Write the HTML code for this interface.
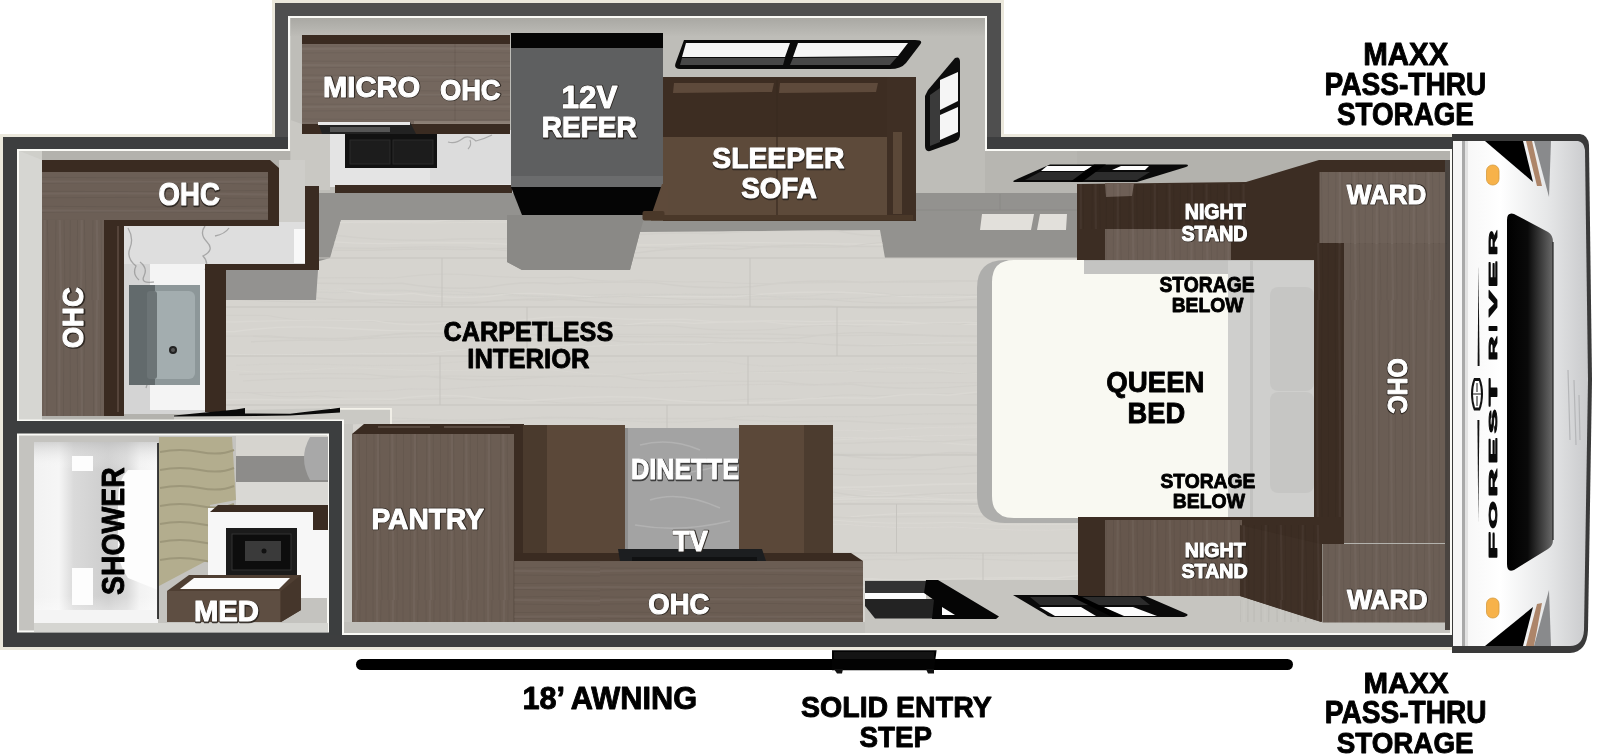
<!DOCTYPE html>
<html><head><meta charset="utf-8"><style>
html,body{margin:0;padding:0;background:#fff;overflow:hidden}
svg{display:block;will-change:transform}
text{font-family:"Liberation Sans",sans-serif;font-weight:bold}
</style></head><body>
<svg width="1600" height="754" viewBox="0 0 1600 754">
<defs>
<linearGradient id="capg" x1="0" y1="0" x2="1" y2="0">
 <stop offset="0" stop-color="#f4f4f4"/><stop offset="0.35" stop-color="#ffffff"/><stop offset="0.7" stop-color="#e6e7e8"/><stop offset="1" stop-color="#c9cacc"/>
</linearGradient>
<linearGradient id="winf" x1="0" y1="0" x2="1" y2="0">
 <stop offset="0" stop-color="#000"/><stop offset="0.45" stop-color="#0a0a0a"/><stop offset="1" stop-color="#6a6a6a"/>
</linearGradient>
<linearGradient id="showg" x1="0" y1="0" x2="1" y2="0">
 <stop offset="0" stop-color="#f2f2f2"/><stop offset="0.2" stop-color="#f6f6f6"/><stop offset="0.32" stop-color="#dadada"/><stop offset="0.6" stop-color="#cdcdcd"/><stop offset="0.75" stop-color="#d9d9d9"/><stop offset="0.85" stop-color="#f2f2f2"/><stop offset="1" stop-color="#f8f8f8"/>
</linearGradient>
<linearGradient id="showv" x1="0" y1="0" x2="0" y2="1">
 <stop offset="0" stop-color="#bdbdbd" stop-opacity="0.6"/><stop offset="0.15" stop-color="#ffffff" stop-opacity="0"/><stop offset="0.85" stop-color="#ffffff" stop-opacity="0"/><stop offset="1" stop-color="#ffffff" stop-opacity="0.6"/>
</linearGradient>
<linearGradient id="wallt" x1="0" y1="0" x2="0" y2="1">
 <stop offset="0" stop-color="#a9a8a3"/><stop offset="1" stop-color="#bdbcb7"/>
</linearGradient>
<pattern id="wv" x="0" y="0" width="37" height="300" patternUnits="userSpaceOnUse">
 <path d="M3,0 q2,150 0,300 M11,0 q-3,150 1,300 M19,0 q2,150 -1,300 M27,0 q-2,150 1,300 M33,0 q1,150 0,300" stroke="#000" stroke-opacity="0.055" stroke-width="1" fill="none"/>
 <path d="M7,0 q2,150 0,300 M23,0 q-2,150 1,300" stroke="#fff" stroke-opacity="0.04" stroke-width="2" fill="none"/>
</pattern>
<pattern id="wh" x="0" y="0" width="300" height="29" patternUnits="userSpaceOnUse">
 <path d="M0,3 q150,2 300,0 M0,10 q150,-3 300,1 M0,17 q150,2 300,-1 M0,24 q150,-2 300,1" stroke="#000" stroke-opacity="0.055" stroke-width="1" fill="none"/>
 <path d="M0,7 q150,2 300,0 M0,20 q150,-2 300,1" stroke="#fff" stroke-opacity="0.04" stroke-width="2" fill="none"/>
</pattern>
</defs>
<polygon points="0,134 272,134 272,0 1004,0 1004,134 1462,134 1462,650 0,650" fill="#ebe8dc"/>
<polygon points="3,137 275,137 275,3 1001,3 1001,137 1462,137 1462,647 3,647" fill="#3d3e3f"/>
<polygon points="275,3 1001,3 1001,137 275,137" fill="#4f4f4f"/>
<polygon points="17,149 288,149 288,16 987,16 987,149 1452,149 1452,635 17,635" fill="#fafaf6"/>
<polygon points="19.5,151 290.5,151 290.5,18 985,18 985,151 1450,151 1450,633 19.5,633" fill="#b3b2ad"/>
<rect x="290.5" y="18" width="694.5" height="176" fill="#bebdb8"/>
<rect x="985" y="151" width="92" height="43" fill="#b7b6b1"/>
<rect x="290.5" y="18" width="694.5" height="18" fill="url(#wallt)"/>
<rect x="19.5" y="151" width="22.5" height="270" fill="#cfcfca"/>
<polygon points="19.5,151 42,160 42,420 19.5,420" fill="#d6d6d2"/>
<rect x="319" y="193" width="762" height="117" fill="#93928f"/>
<line x1="916" y1="210" x2="1077" y2="210" stroke="#8a8986" stroke-width="1"/>
<line x1="1000" y1="194" x2="1000" y2="210" stroke="#8a8986" stroke-width="1"/>
<polygon points="341,220 507,220 507,262 522,270 630,270 640,232 880,230 885,258 1080,258 1080,582 865,582 865,622 352,622 352,420 226,420 226,300 316,300 316,262 330,258" fill="#d6d4cf"/>
<clipPath id="flc"><polygon points="341,220 507,220 507,262 522,270 630,270 640,232 880,230 885,258 1080,258 1080,582 865,582 865,622 352,622 352,420 226,420 226,300 316,300 316,262 330,258"/></clipPath>
<g clip-path="url(#flc)"><path d="M164,227.3 q56,-6.8 112,-3.4 q51,-2.1 103,-1.1 q32,0.1 65,0.1 q31,-1.1 63,-0.5 q33,-6.5 66,-3.3 q47,5.2 94,2.6 q35,-4.4 70,-2.2 q55,7.2 110,3.6 q53,-1.7 106,-0.8 q69,-7.3 138,-3.6" stroke="#dad8d3" stroke-width="0.9" fill="none"/><path d="M160,219.9 q42,5.1 85,2.5 q37,1.3 74,0.7 q56,-2.0 111,-1.0 q52,-7.0 104,-3.5 q32,-4.7 65,-2.4 q57,-1.2 114,-0.6 q43,1.4 85,0.7 q48,-3.2 96,-1.6 q62,3.2 124,1.6 q40,1.2 80,0.6" stroke="#dbd9d4" stroke-width="1.5" fill="none"/><path d="M181,243.9 q69,-6.1 138,-3.1 q47,4.1 93,2.1 q36,-0.2 72,-0.1 q32,2.7 63,1.3 q61,1.2 121,0.6 q65,-3.0 130,-1.5 q58,1.5 116,0.8 q53,-0.7 106,-0.4 q64,7.1 127,3.6" stroke="#dbd9d4" stroke-width="1.3" fill="none"/><path d="M234,216.7 q42,1.2 85,0.6 q57,-0.9 114,-0.4 q59,6.2 117,3.1 q44,7.1 88,3.5 q44,1.8 88,0.9 q50,-4.5 99,-2.3 q41,3.8 83,1.9 q46,6.7 92,3.3 q50,-5.3 100,-2.7" stroke="#dbd9d4" stroke-width="1.1" fill="none"/><path d="M244,250.2 q65,-3.5 129,-1.8 q47,-2.3 93,-1.1 q65,7.3 131,3.7 q36,-5.2 72,-2.6 q39,-4.3 79,-2.1 q49,1.4 99,0.7 q41,-7.9 81,-4.0 q47,-2.1 94,-1.0 q53,7.2 105,3.6" stroke="#d1cfca" stroke-width="1.1" fill="none"/><path d="M260,249.7 q57,0.9 114,0.5 q46,-1.7 92,-0.8 q49,-1.6 99,-0.8 q38,7.8 75,3.9 q48,-6.2 95,-3.1 q54,-6.4 108,-3.2 q53,0.6 105,0.3 q68,1.8 136,0.9" stroke="#d1cfca" stroke-width="1.5" fill="none"/><path d="M164,239.2 q40,-2.4 80,-1.2 q45,-6.0 89,-3.0 q64,7.9 128,3.9 q49,-0.3 97,-0.1 q33,-6.4 67,-3.2 q44,-3.8 87,-1.9 q63,-5.4 126,-2.7 q31,7.2 62,3.6 q51,-5.7 102,-2.8 q52,-7.6 103,-3.8" stroke="#d2d0cb" stroke-width="1.6" fill="none"/><path d="M230,298.6 q40,-2.1 81,-1.1 q37,4.4 73,2.2 q51,4.5 103,2.2 q43,-4.4 86,-2.2 q62,7.8 125,3.9 q64,4.9 128,2.4 q63,3.8 125,1.9 q39,0.3 78,0.1 q44,-7.5 88,-3.8" stroke="#d1cfca" stroke-width="1.4" fill="none"/><path d="M169,282.6 q54,-2.5 108,-1.2 q62,3.6 125,1.8 q44,7.6 88,3.8 q33,-6.4 66,-3.2 q49,-2.6 98,-1.3 q49,7.8 99,3.9 q54,-8.0 109,-4.0 q66,-2.5 133,-1.2 q56,5.4 111,2.7" stroke="#d1cfca" stroke-width="1.5" fill="none"/><path d="M236,295.3 q49,-5.1 98,-2.6 q62,-2.7 123,-1.3 q62,7.5 124,3.8 q46,-1.6 92,-0.8 q68,3.6 136,1.8 q37,-6.0 74,-3.0 q36,6.5 72,3.2 q62,-5.7 125,-2.8 q63,7.7 126,3.8" stroke="#d2d0cb" stroke-width="0.8" fill="none"/><path d="M149,285.7 q62,3.6 124,1.8 q34,4.0 68,2.0 q36,7.8 71,3.9 q38,6.0 76,3.0 q31,-4.6 62,-2.3 q50,4.2 100,2.1 q43,0.7 86,0.4 q63,-7.0 127,-3.5 q60,6.4 119,3.2 q56,5.0 113,2.5" stroke="#dbd9d4" stroke-width="1.4" fill="none"/><path d="M162,299.2 q36,0.2 72,0.1 q65,4.4 130,2.2 q54,4.4 109,2.2 q36,-5.7 72,-2.9 q55,-6.1 110,-3.0 q32,2.9 65,1.5 q51,-0.3 102,-0.1 q61,6.1 122,3.1 q32,-4.9 65,-2.5 q32,-6.4 63,-3.2 q48,-7.6 96,-3.8" stroke="#d1cfca" stroke-width="1.0" fill="none"/><path d="M207,288.3 q50,3.1 101,1.5 q48,0.5 96,0.3 q49,7.1 98,3.5 q58,6.0 116,3.0 q68,-3.8 135,-1.9 q52,7.1 105,3.5 q64,-5.8 127,-2.9 q35,-0.9 70,-0.5 q33,-4.1 66,-2.1" stroke="#d1cfca" stroke-width="0.8" fill="none"/><path d="M161,275.6 q61,7.0 122,3.5 q56,-2.1 111,-1.1 q40,-5.8 80,-2.9 q49,3.9 97,2.0 q34,6.2 68,3.1 q37,2.7 73,1.3 q39,3.3 78,1.7 q70,-1.5 140,-0.8 q47,-2.3 94,-1.1 q34,-2.1 67,-1.1" stroke="#d2d0cb" stroke-width="1.2" fill="none"/><path d="M148,330.5 q43,2.0 87,1.0 q50,-7.0 101,-3.5 q69,4.6 139,2.3 q69,-6.3 138,-3.2 q41,-7.4 81,-3.7 q61,-3.7 122,-1.8 q35,-1.2 70,-0.6 q66,5.1 133,2.6 q40,-5.6 81,-2.8" stroke="#dbd9d4" stroke-width="1.3" fill="none"/><path d="M153,316.1 q58,-1.2 115,-0.6 q33,7.0 66,3.5 q55,4.8 111,2.4 q33,5.7 67,2.8 q33,5.8 65,2.9 q48,-2.6 96,-1.3 q52,6.8 104,3.4 q41,-5.9 81,-3.0 q51,-4.2 102,-2.1 q34,-5.4 69,-2.7 q32,-4.8 64,-2.4" stroke="#d2d0cb" stroke-width="1.2" fill="none"/><path d="M171,334.2 q48,2.8 96,1.4 q41,4.9 82,2.4 q70,-7.4 140,-3.7 q31,0.1 61,0.0 q69,0.2 138,0.1 q40,-0.8 80,-0.4 q56,2.4 113,1.2 q56,0.7 113,0.4 q66,7.5 131,3.8" stroke="#d2d0cb" stroke-width="1.3" fill="none"/><path d="M187,352.7 q63,3.3 127,1.7 q55,-1.5 111,-0.8 q44,-7.1 88,-3.6 q35,-6.9 70,-3.4 q60,-3.9 119,-2.0 q37,-6.6 73,-3.3 q64,5.9 127,3.0 q57,-3.5 114,-1.7 q40,-3.3 79,-1.7" stroke="#dbd9d4" stroke-width="0.8" fill="none"/><path d="M146,323.4 q45,-2.7 89,-1.4 q69,-2.8 139,-1.4 q31,6.1 63,3.1 q39,-5.1 77,-2.5 q43,-6.7 87,-3.3 q41,2.5 82,1.2 q40,4.4 80,2.2 q34,5.1 67,2.5 q36,1.4 72,0.7 q46,-3.2 92,-1.6 q55,-6.6 110,-3.3" stroke="#dad8d3" stroke-width="1.3" fill="none"/><path d="M251,341.8 q46,-2.8 91,-1.4 q69,-5.6 139,-2.8 q59,2.3 118,1.1 q32,5.4 64,2.7 q66,2.0 131,1.0 q59,5.0 119,2.5 q36,0.4 71,0.2 q50,5.4 100,2.7" stroke="#d1cfca" stroke-width="1.4" fill="none"/><path d="M253,336.3 q57,3.1 115,1.5 q39,-7.5 78,-3.8 q35,-2.2 71,-1.1 q34,5.4 68,2.7 q52,2.0 105,1.0 q55,2.9 110,1.4 q50,-7.9 99,-4.0 q62,4.0 124,2.0 q50,0.6 100,0.3" stroke="#d1cfca" stroke-width="1.3" fill="none"/><path d="M243,381.0 q64,-4.2 128,-2.1 q60,-4.3 121,-2.2 q56,-0.6 112,-0.3 q64,-6.8 128,-3.4 q66,-3.4 133,-1.7 q32,2.1 64,1.1 q38,1.6 76,0.8 q43,2.4 87,1.2" stroke="#d2d0cb" stroke-width="1.2" fill="none"/><path d="M204,367.1 q49,7.6 99,3.8 q34,-4.5 68,-2.3 q50,3.3 99,1.7 q41,-0.5 83,-0.3 q61,7.9 121,3.9 q52,-3.0 104,-1.5 q33,-0.4 67,-0.2 q42,-6.8 83,-3.4 q50,7.9 101,4.0 q70,-1.8 140,-0.9" stroke="#dad8d3" stroke-width="0.7" fill="none"/><path d="M236,365.3 q40,-2.2 81,-1.1 q54,2.1 108,1.1 q41,-6.2 82,-3.1 q45,-0.0 89,-0.0 q65,-1.7 130,-0.8 q36,7.2 73,3.6 q57,-1.5 115,-0.8 q59,-1.3 118,-0.7 q45,-6.1 90,-3.0" stroke="#d2d0cb" stroke-width="0.6" fill="none"/><path d="M247,392.4 q35,6.8 70,3.4 q59,6.4 117,3.2 q42,-2.0 83,-1.0 q46,8.0 91,4.0 q54,-2.2 107,-1.1 q47,-3.6 94,-1.8 q32,-6.4 64,-3.2 q63,-3.4 127,-1.7 q67,-4.0 135,-2.0" stroke="#d2d0cb" stroke-width="1.0" fill="none"/><path d="M239,374.5 q61,-1.2 123,-0.6 q31,4.2 62,2.1 q46,6.0 92,3.0 q52,-4.7 104,-2.4 q33,6.9 66,3.5 q46,1.8 93,0.9 q36,5.9 71,3.0 q49,6.6 99,3.3 q52,-5.3 104,-2.6 q47,-3.5 93,-1.7" stroke="#d2d0cb" stroke-width="1.3" fill="none"/><path d="M177,401.6 q56,-3.2 112,-1.6 q52,-1.7 105,-0.8 q37,-5.4 73,-2.7 q38,6.5 77,3.2 q50,-4.5 100,-2.2 q66,7.9 133,4.0 q48,-5.8 96,-2.9 q38,-6.5 75,-3.3 q44,-6.5 87,-3.3 q40,-3.9 79,-1.9" stroke="#dad8d3" stroke-width="1.5" fill="none"/><path d="M196,392.3 q47,0.4 93,0.2 q45,-2.6 90,-1.3 q32,-3.6 65,-1.8 q69,-6.0 137,-3.0 q50,2.1 100,1.0 q65,-4.5 129,-2.3 q41,-4.0 82,-2.0 q46,-0.9 92,-0.4 q68,5.6 136,2.8" stroke="#d1cfca" stroke-width="0.7" fill="none"/><path d="M238,428.2 q62,7.5 124,3.7 q50,-6.8 99,-3.4 q67,6.9 134,3.4 q51,-0.5 102,-0.3 q48,4.5 96,2.3 q39,-5.6 78,-2.8 q69,-6.3 138,-3.1 q63,3.2 126,1.6" stroke="#dbd9d4" stroke-width="0.7" fill="none"/><path d="M146,442.7 q35,1.1 70,0.6 q32,3.4 63,1.7 q68,2.0 137,1.0 q51,-1.0 102,-0.5 q61,-6.4 121,-3.2 q42,7.1 84,3.5 q38,-3.8 75,-1.9 q62,-8.0 123,-4.0 q51,7.9 103,4.0 q41,-2.9 82,-1.5" stroke="#dad8d3" stroke-width="1.1" fill="none"/><path d="M176,420.4 q68,3.3 137,1.6 q42,-7.7 85,-3.8 q50,2.8 100,1.4 q47,-3.9 94,-1.9 q57,6.8 113,3.4 q39,-7.5 78,-3.7 q44,-1.3 87,-0.6 q57,-4.8 115,-2.4 q62,3.8 124,1.9" stroke="#d1cfca" stroke-width="0.8" fill="none"/><path d="M183,450.6 q63,-4.3 126,-2.2 q39,4.2 78,2.1 q42,7.2 84,3.6 q50,-5.0 100,-2.5 q39,-1.3 78,-0.7 q57,7.2 113,3.6 q36,-1.7 72,-0.9 q39,7.6 77,3.8 q36,-7.2 71,-3.6 q32,-1.7 65,-0.9 q66,6.1 132,3.1" stroke="#d1cfca" stroke-width="1.6" fill="none"/><path d="M186,449.0 q37,7.0 75,3.5 q60,-7.5 120,-3.7 q57,-1.9 113,-1.0 q45,-2.7 90,-1.3 q37,-8.0 74,-4.0 q41,-2.4 82,-1.2 q68,-6.0 136,-3.0 q69,-4.7 137,-2.3 q44,5.1 89,2.6" stroke="#dbd9d4" stroke-width="0.7" fill="none"/><path d="M169,439.7 q52,-0.9 103,-0.4 q43,3.8 86,1.9 q49,2.1 98,1.1 q40,2.0 80,1.0 q46,-2.0 92,-1.0 q49,4.9 97,2.4 q32,-4.9 65,-2.4 q33,1.7 65,0.8 q45,-2.6 89,-1.3 q68,-7.3 136,-3.7" stroke="#d2d0cb" stroke-width="1.5" fill="none"/><path d="M233,423.0 q54,4.9 108,2.4 q68,-7.0 136,-3.5 q63,-6.3 126,-3.1 q59,-0.5 117,-0.3 q61,4.6 122,2.3 q67,5.0 133,2.5 q35,-0.1 71,-0.0 q30,6.9 61,3.4" stroke="#d2d0cb" stroke-width="1.4" fill="none"/><path d="M219,491.7 q43,-2.9 86,-1.4 q44,4.5 89,2.3 q33,-4.8 66,-2.4 q60,-4.0 120,-2.0 q33,-7.5 65,-3.7 q52,-2.8 104,-1.4 q69,6.1 138,3.1 q70,-3.8 139,-1.9 q33,-6.5 67,-3.2" stroke="#dbd9d4" stroke-width="1.6" fill="none"/><path d="M167,499.9 q35,-0.6 71,-0.3 q66,-4.2 131,-2.1 q52,4.4 103,2.2 q60,4.5 121,2.2 q42,-3.5 84,-1.8 q41,-3.9 81,-2.0 q40,-1.0 81,-0.5 q37,-4.2 75,-2.1 q41,6.5 83,3.3 q38,-7.0 75,-3.5 q40,-4.1 80,-2.0" stroke="#dad8d3" stroke-width="1.2" fill="none"/><path d="M202,464.1 q31,-7.9 63,-4.0 q65,-4.3 131,-2.2 q48,-2.0 96,-1.0 q65,-4.3 130,-2.1 q32,1.6 64,0.8 q63,-4.9 126,-2.4 q33,0.2 66,0.1 q37,1.6 74,0.8 q61,2.6 122,1.3 q30,2.2 61,1.1" stroke="#d2d0cb" stroke-width="0.8" fill="none"/><path d="M163,475.1 q38,-3.9 76,-2.0 q54,2.4 108,1.2 q38,-7.8 76,-3.9 q43,2.9 86,1.4 q37,-3.0 75,-1.5 q38,4.7 76,2.4 q52,-7.0 104,-3.5 q34,-1.7 68,-0.8 q52,2.2 104,1.1 q34,-5.4 67,-2.7 q58,-1.4 116,-0.7" stroke="#d2d0cb" stroke-width="1.3" fill="none"/><path d="M152,477.1 q60,6.1 120,3.1 q47,-7.7 93,-3.9 q61,4.8 121,2.4 q56,-1.7 112,-0.9 q46,7.1 92,3.5 q47,-5.5 95,-2.7 q35,-6.6 69,-3.3 q53,-2.2 106,-1.1 q61,-5.9 122,-3.0" stroke="#d1cfca" stroke-width="1.2" fill="none"/><path d="M255,486.3 q34,2.0 67,1.0 q45,0.1 90,0.0 q36,-3.5 72,-1.7 q51,6.8 102,3.4 q34,-0.2 69,-0.1 q62,7.5 124,3.7 q38,-6.0 76,-3.0 q68,7.6 135,3.8 q49,-7.1 99,-3.6" stroke="#dbd9d4" stroke-width="0.7" fill="none"/><path d="M229,489.2 q66,2.2 131,1.1 q64,1.9 129,1.0 q55,-4.9 109,-2.4 q49,1.0 98,0.5 q32,7.0 63,3.5 q36,-2.3 73,-1.1 q36,7.5 72,3.8 q63,-4.9 125,-2.5 q65,5.5 131,2.7" stroke="#d1cfca" stroke-width="1.3" fill="none"/><path d="M193,522.5 q48,5.6 96,2.8 q61,2.4 122,1.2 q42,-4.0 85,-2.0 q46,-2.1 91,-1.1 q50,-5.1 100,-2.6 q30,7.8 60,3.9 q49,-0.9 97,-0.4 q55,5.1 109,2.6 q63,5.0 127,2.5" stroke="#dbd9d4" stroke-width="0.7" fill="none"/><path d="M198,514.5 q34,-0.9 67,-0.5 q50,-7.3 101,-3.7 q55,-6.7 111,-3.3 q59,4.4 119,2.2 q50,-7.1 101,-3.6 q50,-2.0 100,-1.0 q68,-5.8 136,-2.9 q64,7.9 129,4.0 q59,5.0 119,2.5" stroke="#dad8d3" stroke-width="0.7" fill="none"/><path d="M181,545.5 q62,4.7 125,2.4 q57,3.5 115,1.8 q39,5.3 78,2.7 q54,-4.0 109,-2.0 q43,1.8 86,0.9 q66,-0.7 132,-0.3 q40,7.4 80,3.7 q49,1.5 98,0.7 q55,-4.2 109,-2.1" stroke="#d2d0cb" stroke-width="0.6" fill="none"/><path d="M165,516.7 q67,2.9 135,1.4 q66,-5.3 132,-2.7 q61,-6.2 123,-3.1 q51,2.2 102,1.1 q44,6.0 89,3.0 q52,1.3 104,0.6 q65,-6.3 131,-3.2 q70,2.1 139,1.0" stroke="#dbd9d4" stroke-width="1.3" fill="none"/><path d="M191,524.4 q45,-5.7 90,-2.8 q43,-6.7 86,-3.3 q39,1.8 78,0.9 q68,-3.3 137,-1.6 q51,-3.0 101,-1.5 q69,5.9 137,3.0 q67,6.3 134,3.2 q59,4.0 119,2.0 q39,-3.3 78,-1.7" stroke="#dbd9d4" stroke-width="1.0" fill="none"/><path d="M152,524.1 q50,1.8 99,0.9 q32,-7.1 64,-3.6 q53,-3.1 105,-1.6 q51,0.5 102,0.3 q47,-3.2 93,-1.6 q35,-2.1 71,-1.1 q63,-5.5 126,-2.7 q31,4.8 61,2.4 q58,-0.8 117,-0.4 q33,-5.7 65,-2.8 q57,-3.7 113,-1.8" stroke="#d2d0cb" stroke-width="1.6" fill="none"/><path d="M245,511.5 q66,1.5 131,0.8 q53,1.6 106,0.8 q51,-0.1 101,-0.1 q37,-8.0 73,-4.0 q32,-7.6 65,-3.8 q37,-5.5 75,-2.7 q66,-6.3 133,-3.2 q55,2.5 109,1.3 q38,-1.4 76,-0.7" stroke="#dbd9d4" stroke-width="1.4" fill="none"/><path d="M183,565.6 q42,-7.2 84,-3.6 q66,4.5 131,2.3 q59,-7.9 117,-3.9 q64,3.9 128,2.0 q49,3.9 97,1.9 q48,-4.4 96,-2.2 q34,-4.3 68,-2.1 q32,-2.6 63,-1.3 q60,3.1 120,1.6" stroke="#d2d0cb" stroke-width="1.3" fill="none"/><path d="M212,569.3 q47,4.6 95,2.3 q51,-3.8 102,-1.9 q56,7.4 111,3.7 q39,6.1 77,3.0 q31,-3.8 61,-1.9 q39,3.9 79,2.0 q68,3.9 136,2.0 q43,6.1 86,3.0 q43,-4.2 86,-2.1 q66,2.1 133,1.0" stroke="#dbd9d4" stroke-width="1.1" fill="none"/><path d="M147,580.2 q31,7.3 62,3.6 q39,6.2 79,3.1 q62,-1.7 123,-0.9 q53,1.0 107,0.5 q37,-7.5 74,-3.7 q34,2.0 69,1.0 q36,7.6 73,3.8 q58,-7.5 116,-3.8 q36,2.3 71,1.1 q32,-6.9 63,-3.5 q32,5.7 64,2.9 q60,-4.8 121,-2.4" stroke="#d1cfca" stroke-width="1.5" fill="none"/><path d="M231,589.4 q45,-4.1 91,-2.0 q38,-7.5 76,-3.7 q68,6.6 136,3.3 q60,-6.6 120,-3.3 q60,2.1 120,1.1 q49,-5.9 98,-2.9 q62,2.3 123,1.2 q42,-2.6 84,-1.3 q40,-2.4 81,-1.2" stroke="#d2d0cb" stroke-width="0.6" fill="none"/><path d="M255,589.6 q61,1.6 122,0.8 q49,-3.4 98,-1.7 q60,4.6 120,2.3 q31,0.3 62,0.1 q34,-0.5 68,-0.2 q32,1.1 64,0.5 q59,5.2 117,2.6 q53,-3.4 106,-1.7 q47,0.4 95,0.2" stroke="#d2d0cb" stroke-width="1.4" fill="none"/><path d="M147,598.5 q50,-0.1 99,-0.1 q62,-5.0 124,-2.5 q50,-2.4 100,-1.2 q63,-3.8 127,-1.9 q68,-3.5 136,-1.7 q39,3.2 77,1.6 q50,-6.2 100,-3.1 q55,-6.7 111,-3.4 q62,3.2 123,1.6" stroke="#d1cfca" stroke-width="1.2" fill="none"/><path d="M194,573.0 q46,6.2 92,3.1 q33,6.2 67,3.1 q31,-4.7 62,-2.4 q41,6.4 81,3.2 q50,-1.9 100,-1.0 q65,-4.3 131,-2.1 q48,0.5 97,0.3 q60,4.0 120,2.0 q56,-2.4 112,-1.2 q43,-5.5 86,-2.8" stroke="#dbd9d4" stroke-width="1.3" fill="none"/></g>
<line x1="226" y1="258" x2="1080" y2="258" stroke="#c6c4bf" stroke-width="1"/>
<line x1="226" y1="307" x2="1080" y2="307" stroke="#c6c4bf" stroke-width="1"/>
<line x1="226" y1="356" x2="1080" y2="356" stroke="#c6c4bf" stroke-width="1"/>
<line x1="226" y1="405" x2="1080" y2="405" stroke="#c6c4bf" stroke-width="1"/>
<line x1="226" y1="455" x2="1080" y2="455" stroke="#c6c4bf" stroke-width="1"/>
<line x1="226" y1="504" x2="1080" y2="504" stroke="#c6c4bf" stroke-width="1"/>
<line x1="226" y1="553" x2="1080" y2="553" stroke="#c6c4bf" stroke-width="1"/>
<line x1="442" y1="258" x2="442" y2="307" stroke="#c6c4bf" stroke-width="1"/>
<line x1="750" y1="258" x2="750" y2="307" stroke="#c6c4bf" stroke-width="1"/>
<line x1="527" y1="307" x2="527" y2="356" stroke="#c6c4bf" stroke-width="1"/>
<line x1="837" y1="307" x2="837" y2="356" stroke="#c6c4bf" stroke-width="1"/>
<line x1="440" y1="356" x2="440" y2="405" stroke="#c6c4bf" stroke-width="1"/>
<line x1="748" y1="356" x2="748" y2="405" stroke="#c6c4bf" stroke-width="1"/>
<line x1="667" y1="405" x2="667" y2="455" stroke="#c6c4bf" stroke-width="1"/>
<line x1="896.5" y1="504" x2="896.5" y2="553" stroke="#c6c4bf" stroke-width="1"/>
<line x1="983" y1="553" x2="983" y2="582" stroke="#c6c4bf" stroke-width="1"/>
<polygon points="982,214 1034,214 1031,230 980,230" fill="#e2e0db"/>
<polygon points="1040,214 1067,214 1066,230 1037,230" fill="#e2e0db"/>
<rect x="343" y="420" width="10" height="213" fill="#c6c5c0"/>
<rect x="343" y="622" width="530" height="11" fill="#c0bfba"/>
<rect x="865" y="580" width="215" height="53" fill="#c6c5c0"/>
<rect x="1080" y="596" width="370" height="37" fill="#c6c5c0"/>
<rect x="330" y="130" width="182" height="57" fill="#e4e4e4"/>
<rect x="430" y="134" width="82" height="50" fill="#dcdcdc"/>
<rect x="345" y="134" width="92" height="34" fill="#111"/>
<rect x="350" y="140" width="40" height="24" fill="#1c1c1c" stroke="#2a2a2a" stroke-width="1"/>
<rect x="393" y="140" width="40" height="24" fill="#1c1c1c" stroke="#2a2a2a" stroke-width="1"/>
<rect x="335" y="185" width="177" height="8" fill="#3a2b21"/>
<polygon points="290.5,120 330,134 330,190 305,190 290.5,170" fill="#c9c8c3"/>
<rect x="302" y="122" width="30" height="12" fill="#3a2b21"/>
<rect x="302" y="35" width="208" height="9" fill="#3a2b21"/>
<rect x="302" y="44" width="208" height="80" fill="#74675e"/>
<line x1="455" y1="44" x2="455" y2="124" stroke="#6a5e55" stroke-width="1"/>
<rect x="302" y="124" width="208" height="10" fill="#3a2b21"/>
<rect x="414" y="121" width="96" height="3" fill="#8a7d73"/>
<polygon points="318,122 410,122 416,134 322,134" fill="#222"/>
<rect x="318" y="122" width="92" height="3" fill="#e8e8e8"/>
<rect x="330" y="127" width="60" height="5" fill="#555"/>
<rect x="511" y="33" width="152" height="15" fill="#050505"/>
<rect x="511" y="48" width="152" height="128" fill="#5e5f60"/>
<rect x="511" y="176" width="152" height="11" fill="#6b6c6d"/>
<polygon points="511,187 663,187 652,215 522,215" fill="#050505"/>
<polygon points="507,215 645,215 640,232 630,270 522,270 507,262" fill="#8a8986"/>
<polygon points="663,77 916,77 916,221 663,221" fill="#3f2f24"/>
<rect x="663" y="77" width="224" height="60" fill="#3d2d22"/>
<polygon points="674,83 774,83 772,92 673,93" fill="#5e4a3b"/>
<polygon points="780,83 878,83 876,92 779,93" fill="#5e4a3b"/>
<rect x="663" y="137" width="224" height="80" fill="#5d4a3a"/>
<line x1="777" y1="80" x2="777" y2="217" stroke="#3a2a20" stroke-width="1.2"/>
<rect x="887" y="77" width="29" height="144" rx="2" fill="#3f2f24"/>
<rect x="893" y="132" width="9" height="82" fill="#5b4838"/>
<polygon points="662,184 668,184 668,216 651,216" fill="#5e4a3a"/>
<rect x="642.5" y="211" width="22" height="9.5" rx="2" fill="#4a3829"/>
<rect x="651" y="215" width="262" height="5.5" fill="#4a3829"/>
<path d="M684,40 L915,40 Q925,40 919,46 L906,63 Q901,69 890,69 L680,69 Q673,69 676,62 Z" fill="#0b0b0b"/>
<polygon points="686,43 790,43 785,57 682,57" fill="#f6f6f6"/>
<polygon points="798,43 908,43 898,56 793,57" fill="#f6f6f6"/>
<polygon points="682,58 785,58 783,65 680,65" fill="#474747"/>
<polygon points="793,58 897,57 890,65 790,65" fill="#474747"/>
<path d="M928,90 L955,58 Q960,56 960,62 L960,135 Q960,140 955,142 L930,151 Q925,152 925,146 L925,96 Z" fill="#0d0d0d"/>
<polygon points="940,80 958,72 958,101 940,110" fill="#f5f5f5"/>
<polygon points="940,115 958,107 958,132 940,140" fill="#f5f5f5"/>
<polygon points="930,95 940,88 940,142 930,146" fill="#3a3a3a"/>
<rect x="279" y="160" width="26" height="70" fill="#cecdc9"/>
<rect x="122" y="222" width="185" height="42" fill="#dedede"/>
<rect x="294" y="229" width="11" height="34" fill="#f8f8f8"/>
<rect x="124" y="264" width="82" height="150" fill="#d4d4d4"/>
<rect x="150" y="264" width="55" height="146" fill="#f4f4f4"/>
<path d="M128,228 q6,10 2,20 t6,18 q-4,8 3,14 M140,262 q8,6 4,14 t10,6 M205,226 q-6,8 2,16 t-4,14 q6,6 2,14 M215,236 q10,-2 14,-8 M135,300 q6,12 0,22 t4,20 M142,372 q8,6 4,16" stroke="#7a7a7a" stroke-width="1.3" fill="none" opacity="0.55"/>
<path d="M448,142 q8,2 14,-3 t14,2 q8,-2 16,-6 M470,140 q2,5 -2,9" stroke="#777" stroke-width="1.2" fill="none" opacity="0.5"/>
<rect x="129" y="285" width="71" height="100" fill="#8d9799"/>
<rect x="129" y="285" width="26" height="100" fill="#626a6c"/>
<rect x="147" y="291" width="48" height="88" rx="6" fill="#a3adaf"/>
<rect x="147" y="291" width="10" height="88" rx="3" fill="#6c7476"/>
<circle cx="173" cy="350" r="4" fill="#222"/><circle cx="173" cy="350" r="2" fill="#555"/>
<rect x="104" y="220" width="20" height="196" fill="#3a2b21"/>
<rect x="117" y="226" width="2" height="186" fill="#55443a"/>
<rect x="205" y="264" width="21" height="148" fill="#3a2b21"/>
<rect x="205" y="264" width="113" height="6" fill="#3a2b21"/>
<rect x="305" y="186" width="14" height="84" fill="#3a2b21"/>
<polygon points="226,270 318,270 316,300 226,300" fill="#939290"/>
<polygon points="42,160 270,160 279,168 279,226 104,226 104,416 42,416" fill="#3a2b21"/>
<rect x="42" y="172" width="226" height="48" fill="#6c5f56"/>
<rect x="42" y="172" width="62" height="244" fill="#6c5f56"/>
<polygon points="174,415 245,410 340,408 392,408 392,424 174,424" fill="#cac9c4"/>
<polyline points="330,408.8 391,408.8 391,424" fill="none" stroke="#f4f2ea" stroke-width="1.8"/>
<rect x="17" y="419.5" width="327" height="215.5" fill="#fafaf6"/>
<rect x="17" y="421" width="325" height="214" fill="#3c3e3f"/>
<rect x="17" y="433.5" width="312" height="199" fill="#fafaf6"/>
<rect x="19" y="435.5" width="308" height="195" fill="#c4c3bf"/>
<rect x="34" y="442" width="124" height="181" fill="url(#showg)"/>
<rect x="34" y="442" width="124" height="181" fill="url(#showv)"/>
<path d="M158,470 L128,470 Q118,480 118,500 L118,545 Q118,565 128,578 L158,590 Z" fill="#fdfdfd"/>
<rect x="72" y="456" width="21" height="15" fill="#fdfdfd"/>
<rect x="72" y="568" width="21" height="37" fill="#fdfdfd"/>
<rect x="34" y="610" width="124" height="13" fill="#f4f4f4"/>
<polygon points="159,437 232,437 236,500 210,505 208,560 159,586" fill="#b3ad8e"/>
<path d="M160,452 q20,-4 40,0 t34,-2" stroke="#9d977a" stroke-width="2" fill="none"/>
<path d="M160,470 q20,-4 40,0 t34,-2" stroke="#9d977a" stroke-width="2" fill="none"/>
<path d="M160,488 q20,-4 40,0 t34,-2" stroke="#9d977a" stroke-width="2" fill="none"/>
<path d="M160,506 q20,-4 40,0 t34,-2" stroke="#9d977a" stroke-width="2" fill="none"/>
<path d="M160,524 q20,-4 40,0 t34,-2" stroke="#9d977a" stroke-width="2" fill="none"/>
<path d="M160,542 q20,-4 40,0 t34,-2" stroke="#9d977a" stroke-width="2" fill="none"/>
<path d="M160,560 q20,-4 40,0 t34,-2" stroke="#9d977a" stroke-width="2" fill="none"/>
<line x1="158" y1="443" x2="158" y2="619" stroke="#111" stroke-width="1.6"/>
<rect x="236" y="436" width="92" height="20" fill="#d6d4cf"/>
<rect x="236" y="456" width="92" height="26" fill="#8d8c8a"/>
<rect x="236" y="482" width="92" height="24" fill="#d9d8d4"/>
<path d="M328,437 L310,437 Q298,458 310,480 L328,480 Z" fill="#a8a8a8"/>
<rect x="208" y="508" width="120" height="90" fill="#f7f7f7"/>
<polygon points="218,505 328,505 328,530 313,530 313,512 210,512" fill="#3a2b21"/>
<rect x="226" y="528" width="71" height="47" fill="#1b1b1b"/>
<rect x="232" y="534" width="59" height="36" fill="#0d0d0d" stroke="#333" stroke-width="1"/>
<rect x="245" y="541" width="36" height="20" fill="#3a3a3a"/>
<circle cx="264" cy="551" r="2.5" fill="#111"/>
<polygon points="167,591 189,575 301,575 301,610 281,622 167,622" fill="#4f3f33"/>
<polygon points="180,589 194,578 290,578 279,589" fill="#fbfbfb"/>
<rect x="167" y="591" width="113" height="31" fill="#5e4e42"/>
<polygon points="281,591 301,575 301,610 281,622" fill="#45362b"/>
<rect x="34" y="623" width="294" height="9" fill="#d5d5d1"/>
<polygon points="174,415.5 236,409.5 245,408 245,413.5 290,413.8 330,409 340,407.8 340,412.5 290,415.6 174,416.6" fill="#0a0a0a"/>
<polygon points="352,434 364,424 514,424 514,434" fill="#3a2b21"/>
<rect x="352" y="434" width="162" height="188" fill="#6b5d53"/>
<line x1="378" y1="427" x2="430" y2="427" stroke="#7a6c62" stroke-width="1"/>
<line x1="444" y1="427" x2="510" y2="427" stroke="#7a6c62" stroke-width="1"/>
<rect x="514" y="424" width="10" height="136" fill="#3b2c22"/>
<rect x="523" y="425" width="24" height="128" fill="#4a3a2d"/>
<rect x="547" y="425" width="78" height="128" fill="#5b4839"/>
<rect x="625" y="428" width="114" height="122" fill="#a3a3a3"/>
<path d="M640,445 q30,-8 60,5 M632,470 q40,10 90,-5 M650,500 q30,-10 70,8 M635,525 q45,8 95,-4" stroke="#b2b2b2" stroke-width="1.4" fill="none"/>
<rect x="625" y="428" width="3" height="122" fill="#8e8e8e"/>
<rect x="739" y="425" width="65" height="128" fill="#5b4839"/>
<rect x="804" y="425" width="29" height="128" fill="#4c3c2f"/>
<polygon points="514,553 851,553 863,561 514,561" fill="#3a2b21"/>
<rect x="514" y="561" width="349" height="61" fill="#6b5d53"/>
<line x1="514" y1="561" x2="514" y2="622" stroke="#5e5147" stroke-width="1"/>
<polygon points="618,549 762,549 766,561 620,561" fill="#1c1e20"/>
<rect x="632" y="557" width="125" height="4" fill="#101112"/>
<rect x="865" y="581" width="61" height="12" fill="#333333"/>
<rect x="865" y="593" width="61" height="6" fill="#fcfcfc"/>
<polygon points="865,599 940,599 940,618.5 875,618.5 865,606" fill="#232323"/>
<polygon points="926,580 938,580 999,616.5 996,619 932,619 934,600 924,593" fill="#050505"/>
<polygon points="942,607 955,615 942,615" fill="#fdfdfd"/>
<path d="M1013,595 L1143,595 L1187,614 Q1189,616 1184,617 L1052,617 Q1048,617 1045,614 Z" fill="#0a0a0a"/>
<polygon points="1030,597 1140,597 1150,605 1040,605" fill="#2c2c2c"/>
<polygon points="1039.5,607 1081,607 1096,616 1055,616" fill="#fcfcfc"/>
<polygon points="1103.5,607 1133,607 1157,616 1124,616" fill="#fcfcfc"/>
<polygon points="1068,595 1078,595 1124,617 1112,617" fill="#000"/>
<path d="M1050,164.5 L1186,164.5 Q1190,165 1186,167 L1137,182 L1016,182 Q1011,182 1015,180 Z" fill="#0a0a0a"/>
<polygon points="1040,172 1150,172 1137,180 1025,180" fill="#2c2c2c"/>
<polygon points="1047,166 1094,166 1084,171 1041,171" fill="#fcfcfc"/>
<polygon points="1121,166 1149,166 1145,170 1112,170" fill="#fcfcfc"/>
<polygon points="1094,164.5 1106,164.5 1082,182 1070,182" fill="#000"/>
<path d="M1005,260 L1240,260 L1240,523 L1005,523 Q977,523 977,495 L977,288 Q977,260 1005,260 Z" fill="#aeaeac"/>
<rect x="1228" y="260.5" width="87" height="257.5" fill="#cfcfcd"/>
<path d="M1014,260 L1084,260 L1084,274 L1228,274 L1228,518 L1014,518 Q992,518 992,496 L992,282 Q992,260 1014,260 Z" fill="#f9f9f2"/>
<rect x="1084" y="260.5" width="144" height="13.5" fill="#c4c4c2"/>
<rect x="1270" y="287" width="44" height="104" rx="8" fill="#c6c6c4"/>
<rect x="1270" y="392" width="44" height="101" rx="8" fill="#c6c6c4"/>
<rect x="1250" y="261" width="3" height="257" fill="#c2c2c0"/>
<polygon points="1077,184 1246,182 1319,160 1449,160 1449,260 1077,260" fill="#3c2d23"/>
<rect x="1105" y="229" width="126" height="31" fill="#6c5e55"/>
<polygon points="1105,183 1134,183 1132,196 1106,197" fill="#6e5f56"/>
<rect x="1319.5" y="172" width="129.5" height="72" fill="#6e6158"/>
<rect x="1314" y="243" width="30" height="300" fill="#3c2d23"/>
<rect x="1344" y="243" width="105" height="300" fill="#6a5d54"/>
<polygon points="1078,517 1344,517 1344,544 1322,544 1322,622 1240,596 1078,596" fill="#3c2d23"/>
<rect x="1105" y="520" width="137" height="76" fill="#66574d"/>
<polygon points="1240,525 1321,544 1321,622 1240,596" fill="#3f3026"/>
<rect x="1322.5" y="544" width="122.5" height="78.5" fill="#6b5e55"/>
<rect x="1445" y="160" width="5" height="470" fill="#4a4440"/>
<path d="M1452,134 L1580,134 Q1588,135 1589,145 L1592,380 L1588,630 Q1587,652 1570,653 L1452,653 Z" fill="#3a3a3a"/>
<path d="M1453,141 L1578,141 Q1584,142 1585,150 L1588,380 L1584,630 Q1583,646 1570,646 L1453,646 Z" fill="url(#capg)"/>
<rect x="1453" y="141" width="9" height="505" fill="#f6f6f6"/>
<rect x="1462" y="141" width="3" height="505" fill="#a9a9a9"/>
<rect x="1465" y="141" width="3" height="505" fill="#e2e2e2"/>
<polygon points="1485,141 1523,141 1533,182" fill="#000"/>
<polygon points="1526,141 1532,141 1542,186 1537,186" fill="#ad8569"/>
<polygon points="1534,141 1551,141 1549,197" fill="#898a8c"/>
<rect x="1486.5" y="165" width="12.5" height="20" rx="6" fill="#f7b24a" stroke="#d49a3e" stroke-width="0.8"/>
<polygon points="1485,646 1523,646 1533,607" fill="#000"/>
<polygon points="1526,646 1534,646 1542,603 1537,604" fill="#ad8569"/>
<polygon points="1534,646 1551,646 1549,590" fill="#898a8c"/>
<rect x="1486.5" y="598" width="12.5" height="20" rx="6" fill="#f7b24a" stroke="#d49a3e" stroke-width="0.8"/>
<path d="M1507,220 Q1507,212 1514,214 L1548,232 Q1553,235 1553,242 L1553,540 Q1553,546 1548,549 L1514,570 Q1507,573 1507,564 Z" fill="url(#winf)"/>
<path d="M1553,242 L1553,540" stroke="#222" stroke-width="1.2"/>
<path d="M1478.5,265 L1479.6,366 L1477.6,366 Z" fill="#111"/>
<path d="M1478.3,522 L1479.4,420 L1477.4,420 Z" fill="#111"/>
<path d="M1474,378 L1480,378 Q1483,385 1483,394 Q1483,403 1480,410.5 L1474,410.5 Q1471,403 1471,394 Q1471,385 1474,378 Z" fill="#111"/>
<path d="M1475,381 L1479,381 Q1481,387 1481,394 Q1481,401 1479,407.5 L1475,407.5 Q1473,401 1473,394 Q1473,387 1475,381 Z" fill="#fff"/>
<path d="M1472,394 L1482,394 M1477,383 L1477,392 M1477,396 L1477,406" stroke="#111" stroke-width="1"/>
<path d="M1568,370 L1570,440 M1574,380 L1576,445 M1579,395 L1580,440" stroke="#b5b6b8" stroke-width="1.2"/>
<text transform="translate(1497.3,405.4) rotate(-90)" x="0" y="0" font-size="11.77" textLength="26.3" lengthAdjust="spacingAndGlyphs" fill="#0a0a0a" stroke="#0a0a0a" stroke-width="0.9" stroke-linejoin="round">T</text>
<text transform="translate(1497.3,433.2) rotate(-90)" x="0" y="0" font-size="11.77" textLength="23.7" lengthAdjust="spacingAndGlyphs" fill="#0a0a0a" stroke="#0a0a0a" stroke-width="0.9" stroke-linejoin="round">S</text>
<text transform="translate(1497.3,463.6) rotate(-90)" x="0" y="0" font-size="11.77" textLength="25.6" lengthAdjust="spacingAndGlyphs" fill="#0a0a0a" stroke="#0a0a0a" stroke-width="0.9" stroke-linejoin="round">E</text>
<text transform="translate(1497.3,496.6) rotate(-90)" x="0" y="0" font-size="11.77" textLength="27.7" lengthAdjust="spacingAndGlyphs" fill="#0a0a0a" stroke="#0a0a0a" stroke-width="0.9" stroke-linejoin="round">R</text>
<text transform="translate(1497.3,528.5) rotate(-90)" x="0" y="0" font-size="11.77" textLength="27.1" lengthAdjust="spacingAndGlyphs" fill="#0a0a0a" stroke="#0a0a0a" stroke-width="0.9" stroke-linejoin="round">O</text>
<text transform="translate(1497.3,559.1) rotate(-90)" x="0" y="0" font-size="11.77" textLength="26.9" lengthAdjust="spacingAndGlyphs" fill="#0a0a0a" stroke="#0a0a0a" stroke-width="0.9" stroke-linejoin="round">F</text>
<text transform="translate(1497.3,255.2) rotate(-90)" x="0" y="0" font-size="11.77" textLength="24.8" lengthAdjust="spacingAndGlyphs" fill="#0a0a0a" stroke="#0a0a0a" stroke-width="0.9" stroke-linejoin="round">R</text>
<text transform="translate(1497.3,287.1) rotate(-90)" x="0" y="0" font-size="11.77" textLength="25.9" lengthAdjust="spacingAndGlyphs" fill="#0a0a0a" stroke="#0a0a0a" stroke-width="0.9" stroke-linejoin="round">E</text>
<text transform="translate(1497.3,316.6) rotate(-90)" x="0" y="0" font-size="11.77" textLength="25.6" lengthAdjust="spacingAndGlyphs" fill="#0a0a0a" stroke="#0a0a0a" stroke-width="0.9" stroke-linejoin="round">V</text>
<text transform="translate(1497.3,331.6) rotate(-90)" x="0" y="0" font-size="11.77" textLength="6.1" lengthAdjust="spacingAndGlyphs" fill="#0a0a0a" stroke="#0a0a0a" stroke-width="0.9" stroke-linejoin="round">I</text>
<text transform="translate(1497.3,360.6) rotate(-90)" x="0" y="0" font-size="11.77" textLength="24.1" lengthAdjust="spacingAndGlyphs" fill="#0a0a0a" stroke="#0a0a0a" stroke-width="0.9" stroke-linejoin="round">R</text>
<rect x="356" y="659" width="937" height="11" rx="5.5" fill="#000"/>
<polygon points="832,650.3 936.6,650.3 934,670.2 832,670.2" fill="#030303"/>
<rect x="834" y="652" width="100" height="7" fill="#141414"/>
<polygon points="834,669 843,669 842,673.5 837,673.5" fill="#111"/>
<polygon points="926,669 934,669 934,673.5 928,673.5" fill="#111"/>
<rect x="352" y="434" width="162" height="188" fill="url(#wv)"/>
<rect x="514" y="561" width="349" height="61" fill="url(#wh)"/>
<rect x="42" y="172" width="226" height="48" fill="url(#wh)"/>
<rect x="42" y="220" width="62" height="196" fill="url(#wv)"/>
<rect x="302" y="44" width="208" height="80" fill="url(#wh)"/>
<rect x="1319.5" y="172" width="129.5" height="72" fill="url(#wv)"/>
<rect x="1344" y="243" width="105" height="300" fill="url(#wv)"/>
<rect x="1322.5" y="544" width="122.5" height="78.5" fill="url(#wv)"/>
<rect x="1105" y="520" width="137" height="76" fill="url(#wv)"/>
<rect x="1105" y="229" width="126" height="31" fill="url(#wv)"/>
<rect x="1077" y="184" width="169" height="45" fill="url(#wv)"/>
<rect x="1240" y="525" width="81" height="97" fill="url(#wv)"/>
<rect x="1314" y="243" width="30" height="274" fill="url(#wv)"/>
<text x="323.1" y="96.8" font-size="29.94" textLength="97.0" lengthAdjust="spacingAndGlyphs" fill="#2b2520" stroke="#2b2520" stroke-width="2.6" stroke-linejoin="round" transform="translate(0.4,0.5)" opacity="0.9">MICRO</text>
<text x="323.1" y="96.8" font-size="29.94" textLength="97.0" lengthAdjust="spacingAndGlyphs" fill="#fff" stroke="#fff" stroke-width="1.1" stroke-linejoin="round">MICRO</text>
<text x="439.9" y="99.8" font-size="29.36" textLength="60.7" lengthAdjust="spacingAndGlyphs" fill="#2b2520" stroke="#2b2520" stroke-width="2.6" stroke-linejoin="round" transform="translate(0.4,0.5)" opacity="0.9">OHC</text>
<text x="439.9" y="99.8" font-size="29.36" textLength="60.7" lengthAdjust="spacingAndGlyphs" fill="#fff" stroke="#fff" stroke-width="1.1" stroke-linejoin="round">OHC</text>
<text x="561.5" y="107.5" font-size="31.40" textLength="55.8" lengthAdjust="spacingAndGlyphs" fill="#2b2520" stroke="#2b2520" stroke-width="2.6" stroke-linejoin="round" transform="translate(0.4,0.5)" opacity="0.9">12V</text>
<text x="561.5" y="107.5" font-size="31.40" textLength="55.8" lengthAdjust="spacingAndGlyphs" fill="#fff" stroke="#fff" stroke-width="1.1" stroke-linejoin="round">12V</text>
<text x="541.8" y="137.3" font-size="30.23" textLength="95.0" lengthAdjust="spacingAndGlyphs" fill="#2b2520" stroke="#2b2520" stroke-width="2.6" stroke-linejoin="round" transform="translate(0.4,0.5)" opacity="0.9">REFER</text>
<text x="541.8" y="137.3" font-size="30.23" textLength="95.0" lengthAdjust="spacingAndGlyphs" fill="#fff" stroke="#fff" stroke-width="1.1" stroke-linejoin="round">REFER</text>
<text x="712.3" y="168.4" font-size="29.65" textLength="132.1" lengthAdjust="spacingAndGlyphs" fill="#2b2520" stroke="#2b2520" stroke-width="2.6" stroke-linejoin="round" transform="translate(0.4,0.5)" opacity="0.9">SLEEPER</text>
<text x="712.3" y="168.4" font-size="29.65" textLength="132.1" lengthAdjust="spacingAndGlyphs" fill="#fff" stroke="#fff" stroke-width="1.1" stroke-linejoin="round">SLEEPER</text>
<text x="741.2" y="198.3" font-size="28.78" textLength="75.7" lengthAdjust="spacingAndGlyphs" fill="#2b2520" stroke="#2b2520" stroke-width="2.6" stroke-linejoin="round" transform="translate(0.4,0.5)" opacity="0.9">SOFA</text>
<text x="741.2" y="198.3" font-size="28.78" textLength="75.7" lengthAdjust="spacingAndGlyphs" fill="#fff" stroke="#fff" stroke-width="1.1" stroke-linejoin="round">SOFA</text>
<text x="158.6" y="205.4" font-size="30.52" textLength="61.2" lengthAdjust="spacingAndGlyphs" fill="#2b2520" stroke="#2b2520" stroke-width="2.6" stroke-linejoin="round" transform="translate(0.4,0.5)" opacity="0.9">OHC</text>
<text x="158.6" y="205.4" font-size="30.52" textLength="61.2" lengthAdjust="spacingAndGlyphs" fill="#fff" stroke="#fff" stroke-width="1.1" stroke-linejoin="round">OHC</text>
<text transform="translate(0.4,0.5) translate(83.2,348.2) rotate(-90)" x="0" y="0" font-size="30.38" textLength="60.9" lengthAdjust="spacingAndGlyphs" fill="#2b2520" stroke="#2b2520" stroke-width="2.6" stroke-linejoin="round" opacity="0.9">OHC</text>
<text transform="translate(83.2,348.2) rotate(-90)" x="0" y="0" font-size="30.38" textLength="60.9" lengthAdjust="spacingAndGlyphs" fill="#fff" stroke="#fff" stroke-width="1.1" stroke-linejoin="round">OHC</text>
<text x="371.4" y="528.6" font-size="30.23" textLength="112.7" lengthAdjust="spacingAndGlyphs" fill="#2b2520" stroke="#2b2520" stroke-width="2.6" stroke-linejoin="round" transform="translate(0.4,0.5)" opacity="0.9">PANTRY</text>
<text x="371.4" y="528.6" font-size="30.23" textLength="112.7" lengthAdjust="spacingAndGlyphs" fill="#fff" stroke="#fff" stroke-width="1.1" stroke-linejoin="round">PANTRY</text>
<text x="631.0" y="479.3" font-size="28.78" textLength="108.0" lengthAdjust="spacingAndGlyphs" fill="#333" stroke="#333" stroke-width="2.6" stroke-linejoin="round" transform="translate(0.4,0.5)" opacity="0.9">DINETTE</text>
<text x="631.0" y="479.3" font-size="28.78" textLength="108.0" lengthAdjust="spacingAndGlyphs" fill="#fff" stroke="#fff" stroke-width="1.1" stroke-linejoin="round">DINETTE</text>
<text x="672.8" y="550.5" font-size="29.65" textLength="35.0" lengthAdjust="spacingAndGlyphs" fill="#2b2520" stroke="#2b2520" stroke-width="2.6" stroke-linejoin="round" transform="translate(0.4,0.5)" opacity="0.9">TV</text>
<text x="672.8" y="550.5" font-size="29.65" textLength="35.0" lengthAdjust="spacingAndGlyphs" fill="#fff" stroke="#fff" stroke-width="1.1" stroke-linejoin="round">TV</text>
<text x="648.3" y="613.5" font-size="30.09" textLength="61.1" lengthAdjust="spacingAndGlyphs" fill="#2b2520" stroke="#2b2520" stroke-width="2.6" stroke-linejoin="round" transform="translate(0.4,0.5)" opacity="0.9">OHC</text>
<text x="648.3" y="613.5" font-size="30.09" textLength="61.1" lengthAdjust="spacingAndGlyphs" fill="#fff" stroke="#fff" stroke-width="1.1" stroke-linejoin="round">OHC</text>
<text x="193.9" y="621.2" font-size="29.80" textLength="65.0" lengthAdjust="spacingAndGlyphs" fill="#2b2520" stroke="#2b2520" stroke-width="2.6" stroke-linejoin="round" transform="translate(0.4,0.5)" opacity="0.9">MED</text>
<text x="193.9" y="621.2" font-size="29.80" textLength="65.0" lengthAdjust="spacingAndGlyphs" fill="#fff" stroke="#fff" stroke-width="1.1" stroke-linejoin="round">MED</text>
<text x="1184.8" y="219.2" font-size="21.22" textLength="60.9" lengthAdjust="spacingAndGlyphs" fill="#2b2520" stroke="#2b2520" stroke-width="2.6" stroke-linejoin="round" transform="translate(0.4,0.5)" opacity="0.9">NIGHT</text>
<text x="1184.8" y="219.2" font-size="21.22" textLength="60.9" lengthAdjust="spacingAndGlyphs" fill="#fff" stroke="#fff" stroke-width="1.1" stroke-linejoin="round">NIGHT</text>
<text x="1181.5" y="240.5" font-size="21.37" textLength="66.0" lengthAdjust="spacingAndGlyphs" fill="#2b2520" stroke="#2b2520" stroke-width="2.6" stroke-linejoin="round" transform="translate(0.4,0.5)" opacity="0.9">STAND</text>
<text x="1181.5" y="240.5" font-size="21.37" textLength="66.0" lengthAdjust="spacingAndGlyphs" fill="#fff" stroke="#fff" stroke-width="1.1" stroke-linejoin="round">STAND</text>
<text x="1184.8" y="557.2" font-size="21.08" textLength="60.9" lengthAdjust="spacingAndGlyphs" fill="#2b2520" stroke="#2b2520" stroke-width="2.6" stroke-linejoin="round" transform="translate(0.4,0.5)" opacity="0.9">NIGHT</text>
<text x="1184.8" y="557.2" font-size="21.08" textLength="60.9" lengthAdjust="spacingAndGlyphs" fill="#fff" stroke="#fff" stroke-width="1.1" stroke-linejoin="round">NIGHT</text>
<text x="1181.5" y="577.9" font-size="21.08" textLength="66.2" lengthAdjust="spacingAndGlyphs" fill="#2b2520" stroke="#2b2520" stroke-width="2.6" stroke-linejoin="round" transform="translate(0.4,0.5)" opacity="0.9">STAND</text>
<text x="1181.5" y="577.9" font-size="21.08" textLength="66.2" lengthAdjust="spacingAndGlyphs" fill="#fff" stroke="#fff" stroke-width="1.1" stroke-linejoin="round">STAND</text>
<text x="1346.8" y="203.8" font-size="28.34" textLength="79.5" lengthAdjust="spacingAndGlyphs" fill="#2b2520" stroke="#2b2520" stroke-width="2.6" stroke-linejoin="round" transform="translate(0.4,0.5)" opacity="0.9">WARD</text>
<text x="1346.8" y="203.8" font-size="28.34" textLength="79.5" lengthAdjust="spacingAndGlyphs" fill="#fff" stroke="#fff" stroke-width="1.1" stroke-linejoin="round">WARD</text>
<text x="1347.1" y="608.6" font-size="27.91" textLength="80.4" lengthAdjust="spacingAndGlyphs" fill="#2b2520" stroke="#2b2520" stroke-width="2.6" stroke-linejoin="round" transform="translate(0.4,0.5)" opacity="0.9">WARD</text>
<text x="1347.1" y="608.6" font-size="27.91" textLength="80.4" lengthAdjust="spacingAndGlyphs" fill="#fff" stroke="#fff" stroke-width="1.1" stroke-linejoin="round">WARD</text>
<text transform="translate(0.4,0.5) translate(1387.8,358.2) rotate(90)" x="0" y="0" font-size="27.76" textLength="55.2" lengthAdjust="spacingAndGlyphs" fill="#2b2520" stroke="#2b2520" stroke-width="2.6" stroke-linejoin="round" opacity="0.9">OHC</text>
<text transform="translate(1387.8,358.2) rotate(90)" x="0" y="0" font-size="27.76" textLength="55.2" lengthAdjust="spacingAndGlyphs" fill="#fff" stroke="#fff" stroke-width="1.1" stroke-linejoin="round">OHC</text>
<text x="443.6" y="341.4" font-size="27.76" textLength="169.7" lengthAdjust="spacingAndGlyphs" fill="#000" stroke="#000" stroke-width="0.9" stroke-linejoin="round">CARPETLESS</text>
<text x="467.3" y="368.2" font-size="27.76" textLength="122.2" lengthAdjust="spacingAndGlyphs" fill="#000" stroke="#000" stroke-width="0.9" stroke-linejoin="round">INTERIOR</text>
<text x="1106.2" y="392.2" font-size="30.09" textLength="98.4" lengthAdjust="spacingAndGlyphs" fill="#000" stroke="#000" stroke-width="0.9" stroke-linejoin="round">QUEEN</text>
<text x="1127.5" y="422.6" font-size="29.51" textLength="57.6" lengthAdjust="spacingAndGlyphs" fill="#000" stroke="#000" stroke-width="0.9" stroke-linejoin="round">BED</text>
<text x="1159.5" y="291.7" font-size="21.66" textLength="95.1" lengthAdjust="spacingAndGlyphs" fill="#000" stroke="#000" stroke-width="0.9" stroke-linejoin="round">STORAGE</text>
<text x="1171.7" y="312.4" font-size="21.08" textLength="71.7" lengthAdjust="spacingAndGlyphs" fill="#000" stroke="#000" stroke-width="0.9" stroke-linejoin="round">BELOW</text>
<text x="1160.4" y="487.7" font-size="20.64" textLength="95.0" lengthAdjust="spacingAndGlyphs" fill="#000" stroke="#000" stroke-width="0.9" stroke-linejoin="round">STORAGE</text>
<text x="1172.8" y="508.2" font-size="20.64" textLength="72.2" lengthAdjust="spacingAndGlyphs" fill="#000" stroke="#000" stroke-width="0.9" stroke-linejoin="round">BELOW</text>
<text transform="translate(123.5,594.9) rotate(-90)" x="0" y="0" font-size="31.98" textLength="127.5" lengthAdjust="spacingAndGlyphs" fill="#000" stroke="#000" stroke-width="0.9" stroke-linejoin="round">SHOWER</text>
<text x="522.4" y="709.2" font-size="30.96" textLength="174.7" lengthAdjust="spacingAndGlyphs" fill="#000" stroke="#000" stroke-width="0.9" stroke-linejoin="round">18&#8217; AWNING</text>
<text x="801.0" y="716.8" font-size="30.23" textLength="190.7" lengthAdjust="spacingAndGlyphs" fill="#000" stroke="#000" stroke-width="0.9" stroke-linejoin="round">SOLID ENTRY</text>
<text x="859.4" y="746.8" font-size="30.09" textLength="72.6" lengthAdjust="spacingAndGlyphs" fill="#000" stroke="#000" stroke-width="0.9" stroke-linejoin="round">STEP</text>
<text x="1363.2" y="64.5" font-size="30.52" textLength="85.2" lengthAdjust="spacingAndGlyphs" fill="#000" stroke="#000" stroke-width="0.9" stroke-linejoin="round">MAXX</text>
<text x="1324.5" y="94.5" font-size="30.52" textLength="161.8" lengthAdjust="spacingAndGlyphs" fill="#000" stroke="#000" stroke-width="0.9" stroke-linejoin="round">PASS-THRU</text>
<text x="1337.0" y="124.8" font-size="30.67" textLength="136.9" lengthAdjust="spacingAndGlyphs" fill="#000" stroke="#000" stroke-width="0.9" stroke-linejoin="round">STORAGE</text>
<text x="1363.5" y="692.5" font-size="30.38" textLength="85.1" lengthAdjust="spacingAndGlyphs" fill="#000" stroke="#000" stroke-width="0.9" stroke-linejoin="round">MAXX</text>
<text x="1324.8" y="722.5" font-size="30.52" textLength="161.8" lengthAdjust="spacingAndGlyphs" fill="#000" stroke="#000" stroke-width="0.9" stroke-linejoin="round">PASS-THRU</text>
<text x="1336.7" y="753.0" font-size="30.38" textLength="136.9" lengthAdjust="spacingAndGlyphs" fill="#000" stroke="#000" stroke-width="0.9" stroke-linejoin="round">STORAGE</text>
</svg>
</body></html>
